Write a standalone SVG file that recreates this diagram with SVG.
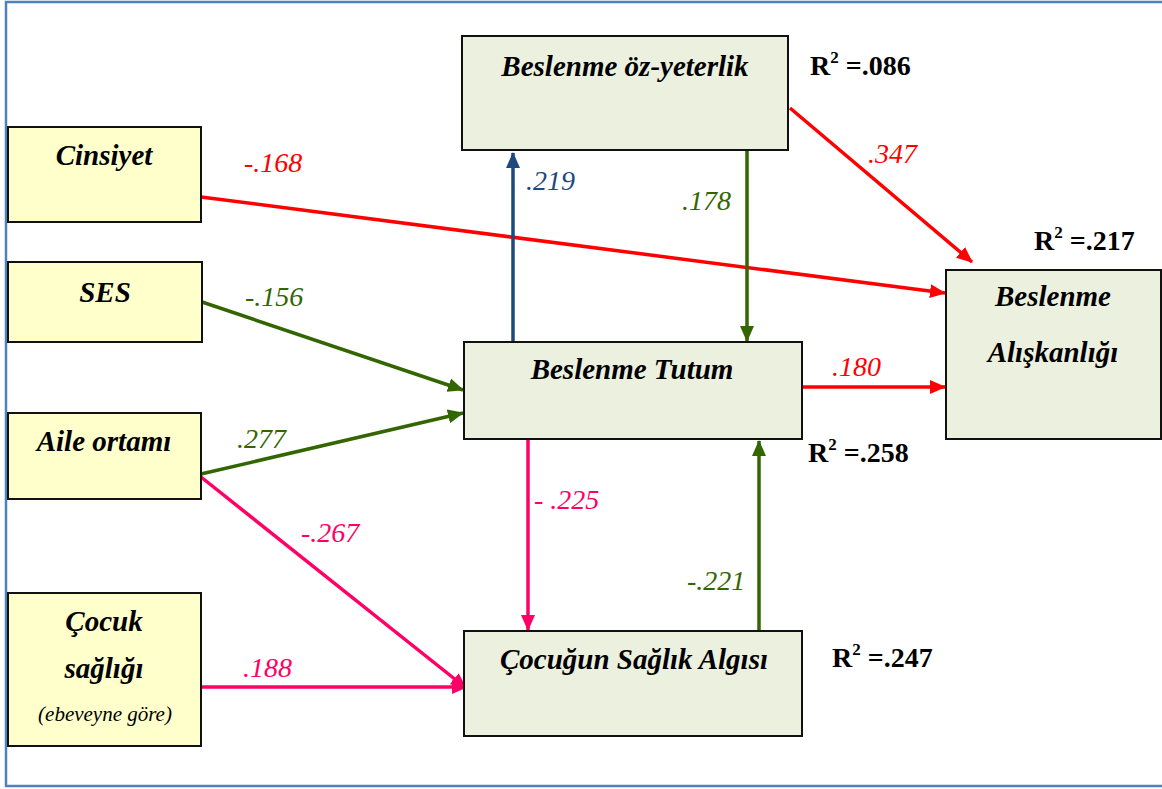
<svg xmlns="http://www.w3.org/2000/svg" width="1162" height="789" viewBox="0 0 1162 789">
  <style>
    .frame { fill: none; stroke: #4F81BD; stroke-width: 2.5; }
    .src { fill: #FFFFCC; stroke: #111; stroke-width: 2; }
    .mid { fill: #EBF1DE; stroke: #111; stroke-width: 2; }
    .nt { font-family: "Liberation Serif", serif; font-style: italic; font-weight: bold; font-size: 29px; fill: #000; text-anchor: middle; }
    .sub { font-family: "Liberation Serif", serif; font-style: italic; font-size: 21px; fill: #000; text-anchor: middle; }
    .lbl { font-family: "Liberation Serif", serif; font-style: italic; font-size: 28px; }
    .r2 { font-family: "Liberation Serif", serif; font-weight: bold; font-size: 28px; fill: #000; }
    .sup { font-size: 17px; }
    .red { stroke: #FF0000; }
    .grn { stroke: #336600; }
    .blu { stroke: #1F497D; }
    .pnk { stroke: #FF0066; }
    .conn line { stroke-width: 3.5; fill: none; }
  </style>
  <defs>
    <marker id="ah-red" markerUnits="userSpaceOnUse" markerWidth="16" markerHeight="16" viewBox="0 0 16 16" refX="15" refY="8" orient="auto">
      <path d="M0,1 L16,8 L0,15 Z" fill="#FF0000"/>
    </marker>
    <marker id="ah-grn" markerUnits="userSpaceOnUse" markerWidth="16" markerHeight="16" viewBox="0 0 16 16" refX="15" refY="8" orient="auto">
      <path d="M0,1 L16,8 L0,15 Z" fill="#336600"/>
    </marker>
    <marker id="ah-blu" markerUnits="userSpaceOnUse" markerWidth="16" markerHeight="16" viewBox="0 0 16 16" refX="15" refY="8" orient="auto">
      <path d="M0,1 L16,8 L0,15 Z" fill="#1F497D"/>
    </marker>
    <marker id="ah-pnk" markerUnits="userSpaceOnUse" markerWidth="16" markerHeight="16" viewBox="0 0 16 16" refX="15" refY="8" orient="auto">
      <path d="M0,1 L16,8 L0,15 Z" fill="#FF0066"/>
    </marker>
  </defs>

  <rect width="1162" height="789" fill="#fff"/>
  <rect class="frame" x="6" y="2" width="1170" height="784"/>

  <!-- connectors -->
  <g id="connectors" class="conn">
    <line class="red" x1="201" y1="197" x2="945" y2="293" marker-end="url(#ah-red)"/>
    <line class="red" x1="790" y1="108" x2="972" y2="262" marker-end="url(#ah-red)"/>
    <line class="red" x1="802" y1="387" x2="945" y2="387" marker-end="url(#ah-red)"/>
    <line class="grn" x1="202" y1="302" x2="463" y2="390" marker-end="url(#ah-grn)"/>
    <line class="grn" x1="201" y1="474" x2="463" y2="413" marker-end="url(#ah-grn)"/>
    <line class="grn" x1="747" y1="150" x2="747" y2="341" marker-end="url(#ah-grn)"/>
    <line class="grn" x1="759" y1="631" x2="759" y2="441" marker-end="url(#ah-grn)"/>
    <line class="blu" x1="513" y1="342" x2="513" y2="153" marker-end="url(#ah-blu)"/>
    <line class="pnk" x1="528" y1="439" x2="528" y2="630" marker-end="url(#ah-pnk)"/>
    <line class="pnk" x1="201" y1="477" x2="466" y2="688" marker-end="url(#ah-pnk)"/>
    <line class="pnk" x1="201" y1="687" x2="467" y2="687" marker-end="url(#ah-pnk)"/>
  </g>

  <!-- path coefficients -->
  <g id="coefficients" class="lbl">
    <text x="244" y="172" fill="#FF0000">-.168</text>
    <text x="868" y="163" fill="#FF0000">.347</text>
    <text x="832" y="376" fill="#FF0000">.180</text>
    <text x="526" y="190" fill="#1F497D">.219</text>
    <text x="682" y="210" fill="#336600">.178</text>
    <text x="245" y="306" fill="#336600">-.156</text>
    <text x="237" y="448" fill="#336600">.277</text>
    <text x="687" y="590" fill="#336600">-.221</text>
    <text x="534" y="509" fill="#FF0066">- .225</text>
    <text x="301" y="542" fill="#FF0066">-.267</text>
    <text x="243" y="677" fill="#FF0066">.188</text>
  </g>

  <!-- explained variance -->
  <g id="r-squared" class="r2">
    <text x="810" y="75">R<tspan class="sup" dy="-12">2</tspan><tspan dy="12"> =.086</tspan></text>
    <text x="1034" y="250">R<tspan class="sup" dy="-12">2</tspan><tspan dy="12"> =.217</tspan></text>
    <text x="808" y="462">R<tspan class="sup" dy="-12">2</tspan><tspan dy="12"> =.258</tspan></text>
    <text x="832" y="667">R<tspan class="sup" dy="-12">2</tspan><tspan dy="12"> =.247</tspan></text>
  </g>

  <!-- exogenous variables -->
  <g id="cinsiyet">
    <rect class="src" x="8" y="127" width="193" height="95"/>
    <text class="nt" x="104" y="165">Cinsiyet</text>
  </g>
  <g id="ses">
    <rect class="src" x="8" y="262" width="194" height="80"/>
    <text class="nt" x="105" y="302">SES</text>
  </g>
  <g id="aile-ortami">
    <rect class="src" x="8" y="413" width="193" height="86"/>
    <text class="nt" x="104" y="451">Aile ortamı</text>
  </g>
  <g id="cocuk-sagligi">
    <rect class="src" x="8" y="593" width="193" height="153"/>
    <text class="nt" x="104" y="631">Çocuk</text>
    <text class="nt" x="104" y="678">sağlığı</text>
    <text class="sub" x="105" y="721">(ebeveyne göre)</text>
  </g>

  <!-- endogenous variables -->
  <g id="oz-yeterlik">
    <rect class="mid" x="462" y="36" width="326" height="114"/>
    <text class="nt" x="625" y="76">Beslenme öz-yeterlik</text>
  </g>
  <g id="tutum">
    <rect class="mid" x="464" y="342" width="338" height="97"/>
    <text class="nt" x="632" y="379">Beslenme Tutum</text>
  </g>
  <g id="saglik-algisi">
    <rect class="mid" x="464" y="631" width="338" height="105"/>
    <text class="nt" x="634" y="669">Çocuğun Sağlık Algısı</text>
  </g>
  <g id="aliskanlik">
    <rect class="mid" x="946" y="270" width="215" height="169"/>
    <text class="nt" x="1053" y="306">Beslenme</text>
    <text class="nt" x="1053" y="362">Alışkanlığı</text>
  </g>
</svg>
